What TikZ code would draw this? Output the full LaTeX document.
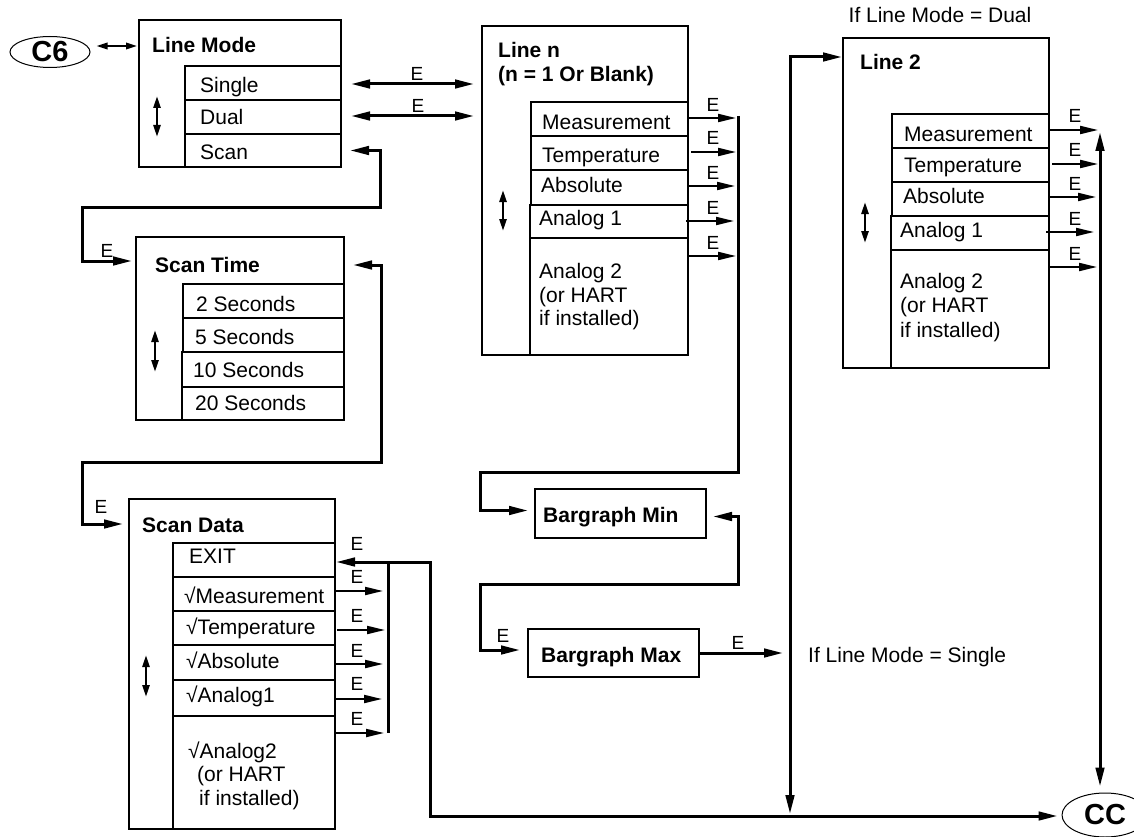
\documentclass[tikz,border=0pt]{standalone}
\usepackage{fontspec}
\setmainfont{Liberation Sans}
\usetikzlibrary{arrows.meta,calc,shapes.geometric}
\tikzset{
  obox/.style={draw, line width=2.3pt, rectangle, anchor=north west, inner sep=0pt, outer sep=0pt},
  txt/.style={anchor=base west, inner sep=0pt, font=\fontsize{21}{24}\selectfont},
  ttl/.style={anchor=base west, inner sep=0pt, font=\fontsize{21}{24}\selectfont\bfseries},
  elab/.style={anchor=base, inner sep=0pt, font=\fontsize{19}{22}\selectfont},
  conn/.style={line width=3pt, -{Triangle[length=19pt,width=8.5pt]}},
  conn2/.style={line width=3pt, {Triangle[length=19pt,width=8.5pt]}-{Triangle[length=19pt,width=8.5pt]}},
  econn/.style={line width=2pt, -{Triangle[length=18pt,width=8pt]}},
  busline/.style={line width=3pt},
  updown/.style={line width=2.5pt, {Triangle[length=12pt,width=7pt]}-{Triangle[length=12pt,width=7pt]}},
  dbl/.style={line width=2pt, {Triangle[length=11pt,width=6.5pt]}-{Triangle[length=11pt,width=6.5pt]}},
  term/.style={draw, ellipse, line width=1pt, inner sep=0pt, font=\fontsize{29}{32}\selectfont\bfseries},
}
\newcommand{\DBox}[6][]{\node[obox,#1,minimum width={#5-#3},minimum height={#6-#4}] (#2) at (#3,#4) {};}
\begin{document}
\begin{tikzpicture}[x=1pt,y=-1pt]
\useasboundingbox (0,0) rectangle (1134,837);

% terminals
\node[term, minimum width=80pt, minimum height=31pt] (c6) at (50,52) {C6};
\node[term, minimum width=86pt, minimum height=44pt] (cc) at (1105,815) {CC};

% ---------- Line Mode
\DBox{lm}{139}{20}{341}{167}
\node[ttl] (lmT) at (152,53) {Line Mode};
\DBox{lmS}{185}{66}{341}{100}
\DBox{lmD}{185}{100}{341}{134}
\DBox{lmSc}{185}{134}{341}{167}
\node[txt] (lmSt) at (200,93) {Single};
\node[txt] (lmDt) at (200,125) {Dual};
\node[txt] (lmSct) at (200,160) {Scan};
\draw[updown] (157,96) -- (157,137);

% ---------- Scan Time
\DBox{st}{136}{237}{344}{420}
\node[ttl] (stT) at (155,272) {Scan Time};
\DBox{st1}{183}{284}{344}{318}
\DBox{st2}{183}{318}{344}{352}
\DBox{st3}{182}{352}{344}{387}
\DBox{st4}{182}{387}{344}{420}
\node[txt] (st1t) at (196,311) {2 Seconds};
\node[txt] (st2t) at (195,344) {5 Seconds};
\node[txt] (st3t) at (193,377) {10 Seconds};
\node[txt] (st4t) at (195,410) {20 Seconds};
\draw[updown] (155,330) -- (155,372);

% ---------- Scan Data
\DBox{sd}{129}{499}{335}{829}
\node[ttl] (sdT) at (142,532) {Scan Data};
\DBox{sdE}{173}{543}{335}{577}
\DBox{sdM}{173}{577}{335}{611}
\DBox{sdTm}{173}{611}{335}{645}
\DBox{sdA}{173}{645}{335}{680}
\DBox{sdN}{173}{680}{335}{716}
\DBox{sdB}{173}{716}{335}{829}
\node[txt] (sdEt) at (189,563) {EXIT};
\node[txt] (sdMt) at (184,603) {√Measurement};
\node[txt] (sdTmt) at (186,634) {√Temperature};
\node[txt] (sdAt) at (186,668) {√Absolute};
\node[txt] (sdNt) at (186,702) {√Analog1};
\node[txt] (sdBt1) at (188,758) {√Analog2};
\node[txt] (sdBt2) at (197,781) {(or HART};
\node[txt] (sdBt3) at (199,805) {if installed)};
\draw[updown] (146,655) -- (146,697);

% ---------- Line n
\DBox{ln}{482}{26}{688}{355}
\node[ttl] (lnT1) at (498,58) {Line n};
\node[ttl] (lnT2) at (498,82) {(n = 1 Or Blank)};
\DBox{ln1}{531}{102}{688}{136}
\DBox{ln2}{531}{136}{688}{170}
\DBox{ln3}{531}{170}{688}{205}
\DBox{ln4}{530}{205}{688}{238}
\DBox{ln5}{530}{238}{688}{355}
\node[txt] (ln1t) at (542,130) {Measurement};
\node[txt] (ln2t) at (542,163) {Temperature};
\node[txt] (ln3t) at (541,193) {Absolute};
\node[txt] (ln4t) at (539,225) {Analog 1};
\node[txt] (ln5t1) at (539,278) {Analog 2};
\node[txt] (ln5t2) at (539,302) {(or HART};
\node[txt] (ln5t3) at (539,325) {if installed)};
\draw[updown] (503,190) -- (503,231);

% ---------- Line 2
\node[txt, anchor=base] (dualLbl) at (940,23) {If Line Mode = Dual};
\DBox{l2}{843}{38}{1049}{368}
\node[ttl] (l2T) at (860,70) {Line 2};
\DBox{l2a}{892}{114}{1049}{148}
\DBox{l2b}{892}{148}{1049}{182}
\DBox{l2c}{892}{182}{1049}{216}
\DBox{l2d}{891}{216}{1049}{250}
\DBox{l2e}{891}{250}{1049}{368}
\node[txt] (l2at) at (904,142) {Measurement};
\node[txt] (l2bt) at (904,173) {Temperature};
\node[txt] (l2ct) at (903,204) {Absolute};
\node[txt] (l2dt) at (900,237) {Analog 1};
\node[txt] (l2et1) at (900,288) {Analog 2};
\node[txt] (l2et2) at (900,312) {(or HART};
\node[txt] (l2et3) at (900,337) {if installed)};
\draw[updown] (865,202) -- (865,243);

% ---------- Bargraph
\DBox[line width=2.7pt]{bmin}{535}{489}{706}{538}
\node[ttl] (bminT) at (543,522) {Bargraph Min};
\DBox[line width=2.7pt]{bmax}{528}{629}{699}{677}
\node[ttl] (bmaxT) at (541,662) {Bargraph Max};
\node[txt] (sgl) at (808,662) {If Line Mode = Single};

% ---------- connectors
\draw[dbl] ($(c6.east)+(6,-6)$) -- ($(lm.north west)+(-2,26)$);

\draw[conn2] ($(lmS.east)+(10,1)$) -- ($(ln.west |- lmS.east)+(-8,1)$);
\node[elab] (eS) at (417,81) {E};
\draw[conn2] ($(lmD.east)+(10,-1)$) -- ($(ln.west |- lmD.east)+(-8,-1)$);
\node[elab] (eD) at (418,113) {E};

\draw[conn2] ($(lmSc.east)+(9,0)$) -- (380,150.5) -- (380,207) -- (82,207) |- ($(st.north west)+(-4,24)$);
\node[elab] (eSc) at (107,257) {E};

\draw[conn2] ($(st.north east)+(9,28)$) -- (381,265) -- (381,462) -- (82,462) |- ($(sd.north west)+(-6,25)$);
\node[elab] (eSd) at (101,513) {E};

% Scan Data bus and exit
\coordinate (sdbus) at (388,562);
\draw[busline] (sdbus) -- (388,733);
\draw[conn2] ($(sdE.east)+(1,2)$) -- (430,562) -- (430,816) -- ($(cc.west)+(-4,1)$);
\node[elab] (eEx) at (357,550) {E};
\draw[econn] ($(sdM.east)+(0,-3)$) -- ($(sdM.east -| sdbus)+(-5,-3)$);
\draw[econn] ($(sdTm.east)+(2,2)$) -- ($(sdTm.east -| sdbus)+(-3,2)$);
\draw[econn] ($(sdA.east)+(0,1.5)$) -- ($(sdA.east -| sdbus)+(-5,1.5)$);
\draw[econn] ($(sdN.east)+(0,1)$) -- ($(sdN.east -| sdbus)+(-6,1)$);
\draw[econn] ($(sdB.north east)+(0,17)$) -- ($(sdB.north east -| sdbus)+(-4,17)$);
\node[elab] (eM) at (357,583) {E};
\node[elab] (eT) at (357,622) {E};
\node[elab] (eA) at (357,657) {E};
\node[elab] (eN) at (357,690) {E};
\node[elab] (eB) at (357,725) {E};

% Line n bus
\coordinate (lnbus) at (738,116);
\draw[econn] ($(ln1.east)+(0,-1)$) -- ($(ln1.east -| lnbus)+(-2,-1)$);
\draw[econn] ($(ln2.east)+(3,-1)$) -- ($(ln2.east -| lnbus)+(-2,-1)$);
\draw[econn] ($(ln3.east)+(0,-1.5)$) -- ($(ln3.east -| lnbus)+(-3,-1.5)$);
\draw[econn] ($(ln4.east)+(-2,-0.5)$) -- ($(ln4.east -| lnbus)+(-4,-0.5)$);
\draw[econn] ($(ln5.north east)+(0,18)$) -- ($(ln5.north east -| lnbus)+(-2,18)$);
\node[elab] (en1) at (713,112) {E};
\node[elab] (en2) at (713,145) {E};
\node[elab] (en3) at (713,179) {E};
\node[elab] (en4) at (713,214) {E};
\node[elab] (en5) at (713,249) {E};
\draw[conn] (lnbus) -- (738,472) -- (480,472) |- ($(bmin.west)+(-7,-3)$);

\draw[conn2] ($(bmin.east)+(7,3)$) -- (738,516.5) -- (738,584) -- (480,584) |- ($(bmax.west)+(-8,-3)$);
\node[elab] (eBx) at (503,642) {E};

\coordinate (sglEnd) at (783,653);
\draw[conn] (bmax.east) -- (sglEnd);
\node[elab] (eBo) at (738,649) {E};

% Line 2 entry
\draw[conn2] ($(l2.north west)+(-1,19)$) -- (790,57) -- (790,814);

% Line 2 bus
\coordinate (r2top) at (1100,132);
\draw[econn] ($(l2a.east)+(0,-1)$) -- ($(l2a.east -| r2top)+(-2,-1)$);
\draw[econn] ($(l2b.east)+(3,-1)$) -- ($(l2b.east -| r2top)+(-2,-1)$);
\draw[econn] ($(l2c.east)+(0,-2)$) -- ($(l2c.east -| r2top)+(-4,-2)$);
\draw[econn] ($(l2d.east)+(-3,-1)$) -- ($(l2d.east -| r2top)+(-6,-1)$);
\draw[econn] ($(l2e.north east)+(0,17)$) -- ($(l2e.north east -| r2top)+(-3,17)$);
\node[elab] (e21) at (1075,123) {E};
\node[elab] (e22) at (1075,157) {E};
\node[elab] (e23) at (1075,190) {E};
\node[elab] (e24) at (1075,225) {E};
\node[elab] (e25) at (1075,260) {E};
\draw[conn2] (r2top) -- ($(r2top |- cc.north)+(0,-6)$);
\end{tikzpicture}
\end{document}
